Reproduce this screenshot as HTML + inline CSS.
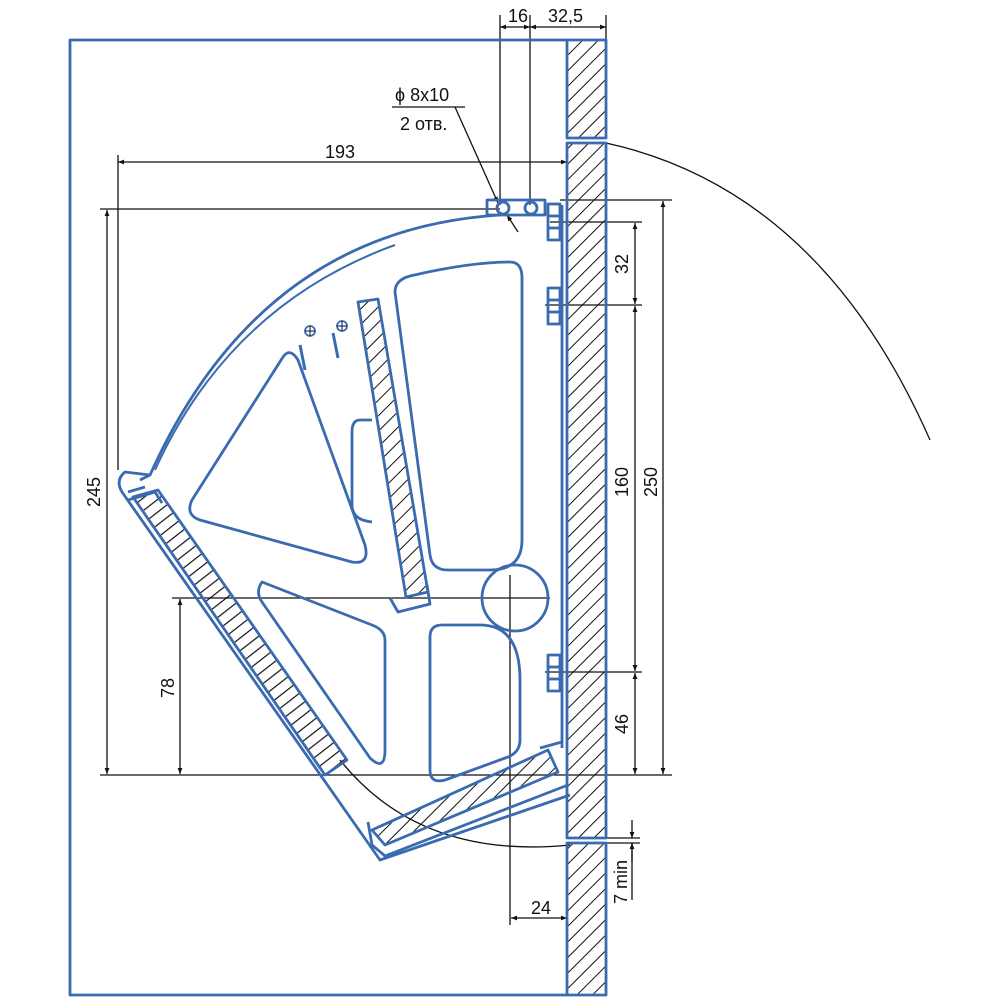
<!DOCTYPE html>
<html><head><meta charset="utf-8"><style>html,body{margin:0;padding:0;background:#fff}svg{display:block}</style></head>
<body>
<svg width="1000" height="1000" viewBox="0 0 1000 1000" xmlns="http://www.w3.org/2000/svg">
<defs>
<pattern id="h" width="11" height="11" patternUnits="userSpaceOnUse" patternTransform="rotate(45)">
<line x1="0" y1="0" x2="0" y2="11" stroke="#111" stroke-width="2"/></pattern>
<pattern id="h2" width="10" height="10" patternUnits="userSpaceOnUse" patternTransform="rotate(52)">
<line x1="0" y1="0" x2="0" y2="10" stroke="#111" stroke-width="2.4"/></pattern>
<marker id="a" viewBox="0 0 10 10" refX="10" refY="5" markerWidth="9" markerHeight="6" orient="auto-start-reverse" markerUnits="userSpaceOnUse"><path d="M0,1 L10,5 L0,9 Z" fill="#111"/></marker>
</defs>
<g fill="none" stroke="#111" stroke-width="1.3">
<line x1="500" y1="15" x2="500" y2="205"/><line x1="530" y1="15" x2="530" y2="205"/><line x1="606" y1="15" x2="606" y2="40"/>
<line x1="500" y1="27" x2="530" y2="27" marker-start="url(#a)" marker-end="url(#a)"/>
<line x1="530" y1="27" x2="606" y2="27" marker-start="url(#a)" marker-end="url(#a)"/>
<line x1="118" y1="162" x2="567" y2="162" marker-start="url(#a)" marker-end="url(#a)"/>
<line x1="118" y1="155" x2="118" y2="470"/>
<line x1="100" y1="209" x2="500" y2="209"/><line x1="560" y1="200" x2="672" y2="200"/>
<line x1="100" y1="775" x2="672" y2="775"/>
<line x1="107" y1="210" x2="107" y2="774" marker-start="url(#a)" marker-end="url(#a)"/>
<line x1="172" y1="598" x2="550" y2="598"/>
<line x1="180" y1="599" x2="180" y2="774" marker-start="url(#a)" marker-end="url(#a)"/>
<line x1="663" y1="201" x2="663" y2="774" marker-start="url(#a)" marker-end="url(#a)"/>
<line x1="550" y1="222" x2="642" y2="222"/><line x1="545" y1="305" x2="642" y2="305"/><line x1="545" y1="672" x2="642" y2="672"/>
<line x1="635" y1="223" x2="635" y2="304" marker-start="url(#a)" marker-end="url(#a)"/>
<line x1="635" y1="306" x2="635" y2="671" marker-start="url(#a)" marker-end="url(#a)"/>
<line x1="635" y1="673" x2="635" y2="774" marker-start="url(#a)" marker-end="url(#a)"/>
<line x1="606" y1="838" x2="640" y2="838"/><line x1="606" y1="843" x2="640" y2="843"/>
<line x1="632" y1="820" x2="632" y2="838" marker-end="url(#a)"/>
<line x1="632" y1="862" x2="632" y2="843" marker-end="url(#a)"/>
<line x1="632" y1="843" x2="632" y2="900"/>
<line x1="510" y1="575" x2="510" y2="925"/>
<line x1="511" y1="918" x2="567" y2="918" marker-start="url(#a)" marker-end="url(#a)"/>
<line x1="392" y1="107" x2="465" y2="107"/>
<line x1="455" y1="107" x2="498" y2="203" marker-end="url(#a)"/>
<line x1="518" y1="232" x2="507" y2="215" marker-end="url(#a)"/>
<path d="M606,143 Q820,190 930,440"/>
<path d="M340,760 Q420,860 570,845"/>
</g>
<g font-family="Liberation Sans, sans-serif" font-size="18" fill="#111">
<text x="508" y="22">16</text><text x="548" y="22">32,5</text>
<text x="325" y="158">193</text>
<text x="395" y="101">ϕ 8x10</text><text x="400" y="130">2 отв.</text>
<text transform="translate(100,492) rotate(-90)" text-anchor="middle">245</text>
<text transform="translate(174,688) rotate(-90)" text-anchor="middle">78</text>
<text transform="translate(628,264) rotate(-90)" text-anchor="middle">32</text>
<text transform="translate(628,482) rotate(-90)" text-anchor="middle">160</text>
<text transform="translate(657,482) rotate(-90)" text-anchor="middle">250</text>
<text transform="translate(628,724) rotate(-90)" text-anchor="middle">46</text>
<text transform="translate(627,882) rotate(-90)" text-anchor="middle">7 min</text>
<text x="531" y="914">24</text>
</g>
<g fill="none" stroke="#3a6bb0" stroke-width="2.8" stroke-linejoin="round">
<path d="M567,40 L70,40 L70,995 L567,995"/>
<rect x="567" y="40" width="39" height="98" fill="url(#h)"/>
<rect x="567" y="143" width="39" height="695" fill="url(#h)"/>
<rect x="567" y="843" width="39" height="152" fill="url(#h)"/>
<rect x="487" y="200" width="58" height="15"/>
<circle cx="503" cy="208" r="6"/><circle cx="531" cy="208" r="6"/>
<rect x="548" y="204" width="12" height="36"/><line x1="548" y1="216" x2="560" y2="216"/><line x1="548" y1="228" x2="560" y2="228"/>
<rect x="548" y="288" width="12" height="36"/><line x1="548" y1="300" x2="560" y2="300"/><line x1="548" y1="312" x2="560" y2="312"/>
<rect x="548" y="655" width="12" height="36"/><line x1="548" y1="667" x2="560" y2="667"/><line x1="548" y1="679" x2="560" y2="679"/>
<line x1="562" y1="205" x2="562" y2="748"/>
<path d="M500,215 Q260,230 150,475 L125,472 Q115,480 122,492 L380,860 L570,795"/>
<path d="M395,245 Q230,305 155,470" stroke-width="2"/>
<path d="M150,475 L140,480 M128,492 L145,487"/>
<path d="M133,497 L158,490 L347,760 L325,775 Z" fill="url(#h2)"/>
<path d="M128,500 L155,492 L162,503"/>
<path d="M372,830 L548,750 L558,772 L385,845 Z" fill="url(#h)"/>
<path d="M368,822 L372,845 L385,856 L568,785"/>
<path d="M540,748 L562,742"/>
<path d="M358,302 L378,299 L428,592 L406,597 Z" fill="url(#h)"/>
<path d="M390,598 L398,612 L430,604 L427,585"/>
<path d="M395,292 Q395,280 410,276 Q470,262 510,262 Q522,262 522,278 L522,540 Q522,570 490,570 L448,570 Q432,570 430,555 Z"/>
<path d="M283,357 Q290,347 298,360 L365,545 Q370,565 352,562 L200,520 Q185,515 192,500 Z"/>
<path d="M262,582 Q255,592 262,602 L370,758 Q385,772 385,750 L385,640 Q385,630 372,625 Z"/>
<path d="M442,625 L480,625 Q520,625 520,680 L520,740 Q520,752 508,757 L445,780 Q430,784 430,770 L430,637 Q430,625 442,625 Z"/>
<path d="M372,420 L360,420 Q352,420 352,432 L352,505 Q352,520 372,522"/>
<circle cx="515" cy="598" r="33"/>
<path d="M300,345 L305,370 M333,333 L338,358" stroke-width="3"/>
<circle cx="310" cy="331" r="5" stroke-width="1.8"/><circle cx="342" cy="326" r="5" stroke-width="1.8"/>
</g>
<g stroke="#111" stroke-width="1"><line x1="305" y1="331" x2="315" y2="331"/><line x1="310" y1="326" x2="310" y2="336"/><line x1="337" y1="326" x2="347" y2="326"/><line x1="342" y1="321" x2="342" y2="331"/></g>
</svg>
</body></html>
